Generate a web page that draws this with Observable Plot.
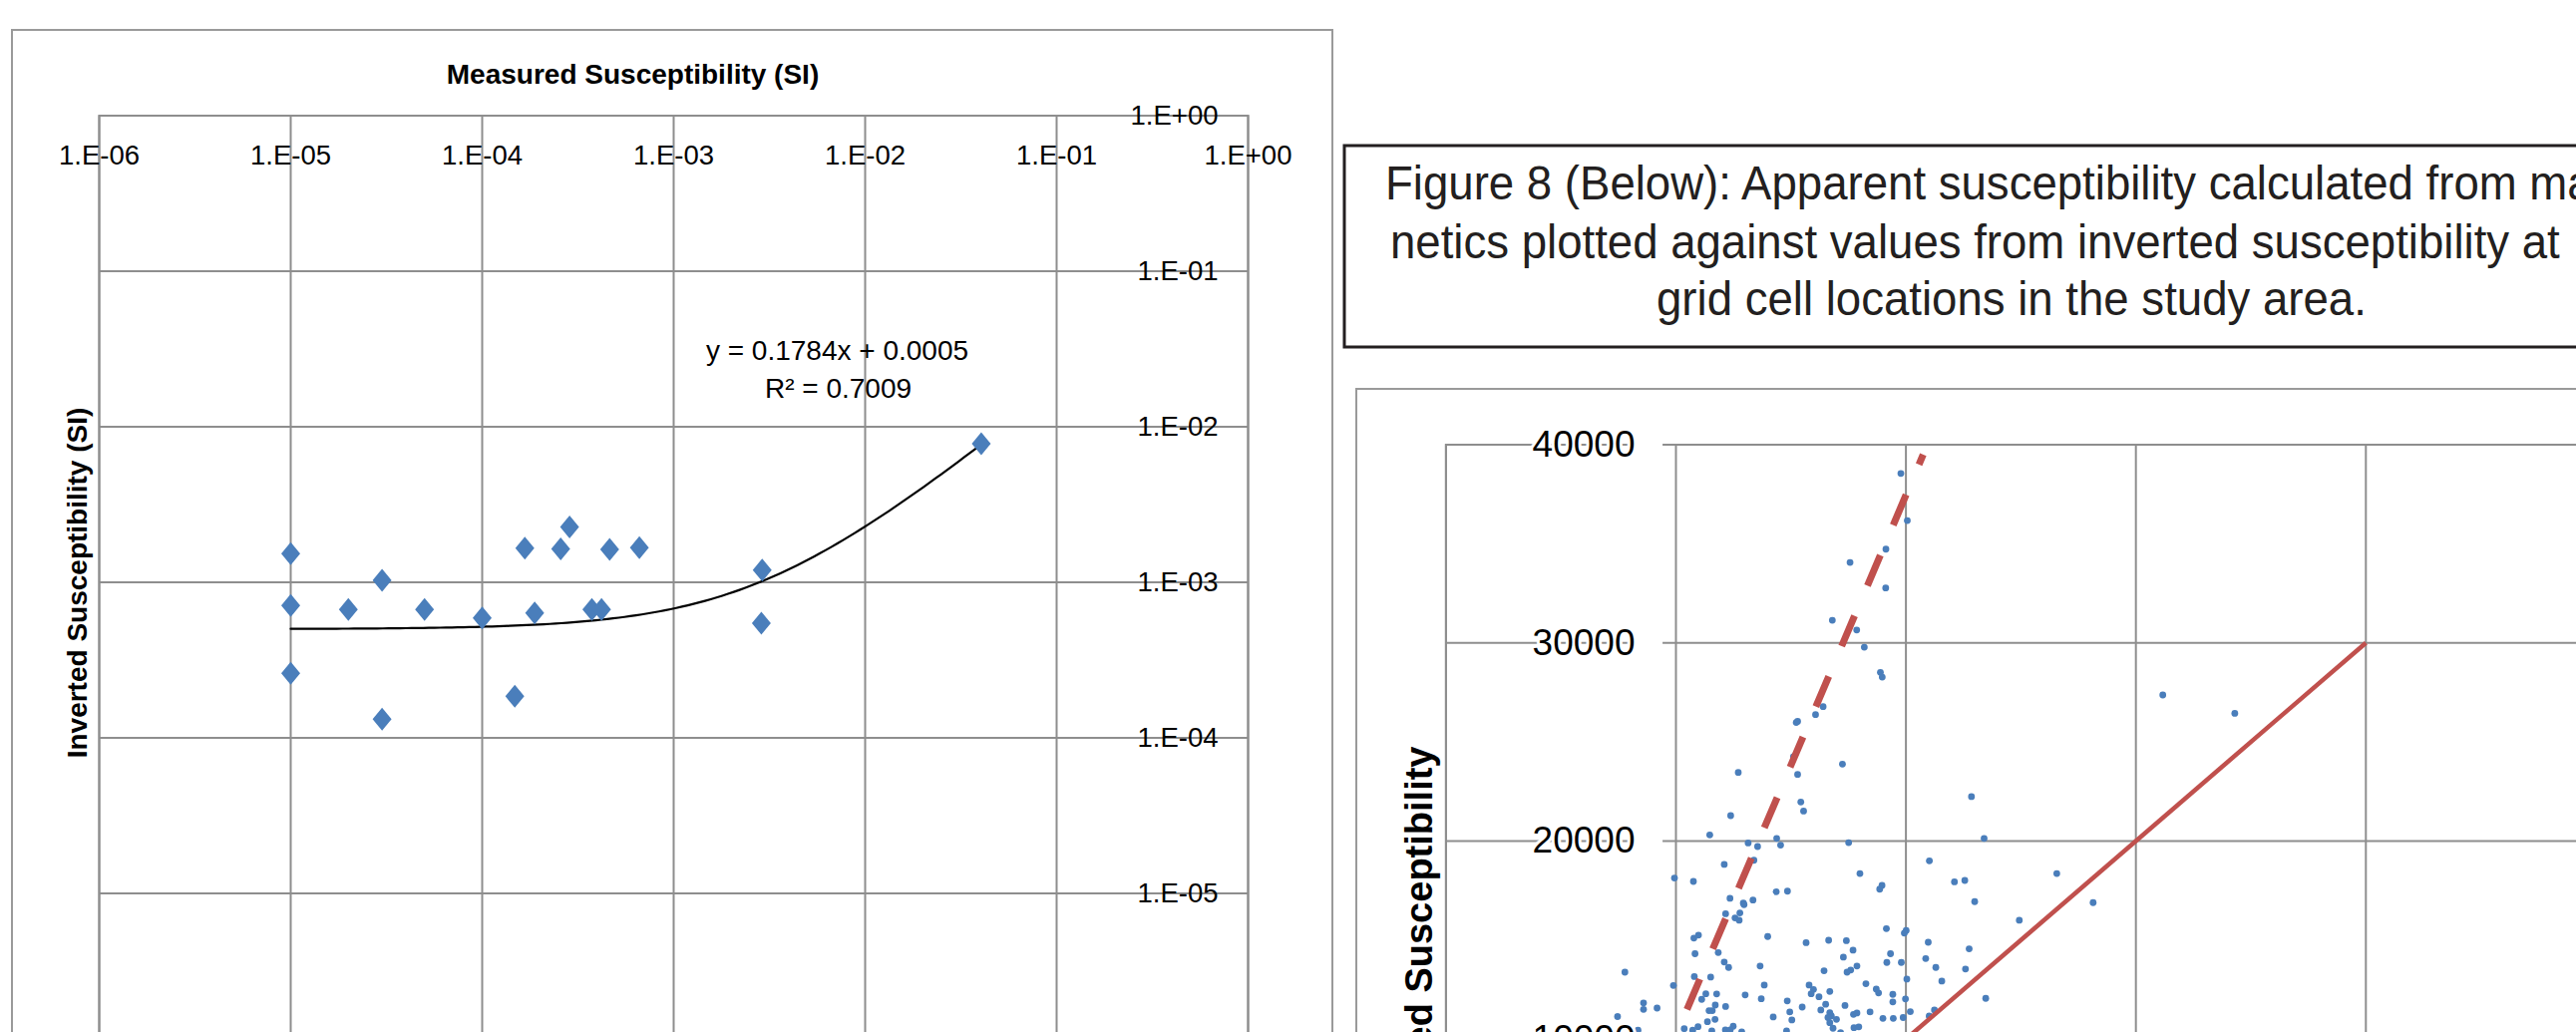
<!DOCTYPE html>
<html><head><meta charset="utf-8">
<script src="https://cdn.jsdelivr.net/npm/d3@7"></script>
<script src="https://cdn.jsdelivr.net/npm/@observablehq/plot@0.6"></script>
<style>
html,body{margin:0;padding:0;width:2583px;height:1035px;overflow:hidden;background:#fff;}
#root{position:relative;width:2583px;height:1035px;overflow:hidden;font-family:"Liberation Sans",Arial,sans-serif;}
.abs{position:absolute;}
</style></head><body><div id="root"></div>
<script>
// ===== Left chart: measured vs inverted susceptibility (log-log) =====
const measuredSusc = [1e-5, 1e-5, 1e-5, 2e-5, 3e-5, 3e-5, 5e-5, 1e-4, 1.48e-4, 1.67e-4, 1.88e-4, 2.57e-4, 2.86e-4, 3.74e-4, 4.2e-4, 4.63e-4, 6.62e-4, 2.9e-3, 2.87e-3, 0.0404];
const invertedSusc = [1.53e-3, 7.1e-4, 2.6e-4, 6.7e-4, 1.03e-3, 1.32e-4, 6.7e-4, 5.9e-4, 1.85e-4, 1.66e-3, 6.36e-4, 1.64e-3, 2.27e-3, 6.7e-4, 6.7e-4, 1.63e-3, 1.67e-3, 1.2e-3, 5.46e-4, 7.77e-3];
const leftXTicks = [1e-6, 1e-5, 1e-4, 1e-3, 1e-2, 1e-1, 1];
const leftXLabels = ["1.E-06", "1.E-05", "1.E-04", "1.E-03", "1.E-02", "1.E-01", "1.E+00"];
const leftYTicks = [1, 1e-1, 1e-2, 1e-3, 1e-4, 1e-5, 1e-6];
const leftYLabels = ["1.E+00", "1.E-01", "1.E-02", "1.E-03", "1.E-04", "1.E-05", "1.E-06"];
const trendSlope = 0.1784;
const trendIntercept = 0.0005;
const trendLabel = "y = 0.1784x + 0.0005";
const r2Label = "R\u00B2 = 0.7009";
const leftTitle = "Measured Susceptibility (SI)";
const leftYTitle = "Inverted Susceptibility (SI)";

// ===== Right chart: apparent vs inverted susceptibility =====
const apparentSusc = [9780,10060,9130,7570,9120,6800,7860,8190,8890,8970,2710,2380,1470,3140,2100,3390,-65,6400,6070,5290,5230,5110,5290,7240,5430,5550,4380,4550,3550,7510,8000,11020,21170,24300,12850,13400,12110,12560,16560,12990,18140,14930,12750,12590,13470,-2220,-110,-1410,-1410,-820,-2540,-1650,360,760,780,830,800,730,4360,4850,2350,2930,2960,3350,2160,2780,2570,2750,3990,5660,980,1840,2100,2290,3660,6440,1510,3840,5790,5980,5880,1300,1770,3010,1120,3710,6220,4840,1710,2160,5490,6300,1440,1580,4950,4230,1700,1370,5040,960,2490,2150,2360,1560,2860,4810,8960,8860,9150,10010,9930,6640,7410,10970,7700,9330,7280,9170,9800,10860,7870,7600,7440,11300,10040,11560,8260,8710,8810,6690,9430,9430,9980,6510,7350,10190,8440,7720,7870,6690,6760,6610,6980,11240,11010,9000,9450,9880,6690,6830,7740,7950,7160];
const invertedSusc2 = [38550,36170,34730,34060,32770,31140,30650,29780,28510,28270,23460,21280,20310,19900,18820,19030,18130,26780,26380,26040,25980,24260,23360,23880,21970,21510,20130,19790,19720,19920,18360,19000,27370,26440,22240,20130,17940,18010,18360,16940,16890,16000,14560,13540,12060,13380,12710,11830,11500,11570,11140,10450,10530,17960,15100,14310,13160,10450,17440,17470,17110,16870,16790,17020,16330,16370,16120,16000,15180,14870,15250,14370,13890,13620,13690,13450,13130,12730,12730,12510,12290,12290,12280,12230,12010,12040,12140,11930,11720,11650,11620,11470,11440,11440,11370,11120,11000,10880,10970,10630,10650,10470,10470,10420,10370,10420,17760,17570,15580,15480,15350,14990,14970,14890,14490,14310,14140,13870,13870,14070,13690,13490,13380,13620,13030,12930,12800,12530,12330,12410,12260,11880,12030,11760,11700,11390,11370,11250,11320,11340,11170,11090,11000,11470,11170,11050,11050,11090,10830,10550,10580,10620,10330];
const rightXGrid = [-10000, 0, 10000, 20000, 30000, 40000, 50000];
const rightYTicks = [0, 10000, 20000, 30000, 40000];
const oneToOneX = [0, 30000];
const oneToOneY = [0, 30000];
const dashedX = [480, 10750];
const dashedY = [11500, 39500];
const rightYTitle = "Inverted Susceptibility";

// ===== Caption box =====
const captionLines = [
  "Figure 8 (Below): Apparent susceptibility calculated from mag-",
  "netics plotted against values from inverted susceptibility at",
  "grid cell locations in the study area."
];

const FONT = "'Liberation Sans', Arial, sans-serif";
const GRID = "#8e8e8e";
const BLUE = "#4A7EBB";
const RED = "#C0504D";
const root = document.getElementById("root");

function box(left, top, w, h, border) {
  const d = document.createElement("div");
  d.className = "abs";
  Object.assign(d.style, {left: left + "px", top: top + "px", width: w + "px", height: h + "px",
    border: border, boxSizing: "border-box"});
  root.appendChild(d);
  return d;
}
box(11, 29, 1326, 1200, "2px solid #9a9a9a");
box(1359, 389, 1500, 1000, "2px solid #9a9a9a");

// ---- Left chart ----
const leftData = measuredSusc.map((m, i) => ({m, v: invertedSusc[i]}));
const [tx0, tx1] = d3.extent(measuredSusc);
const trend = d3.range(0, 121).map(k => {
  const x = 10 ** (Math.log10(tx0) + k / 120 * (Math.log10(tx1) - Math.log10(tx0)));
  return {x, y: trendSlope * x + trendIntercept};
});
const diamond = {draw(ctx) { const w = 9.5, h = 11.5; ctx.moveTo(0, -h); ctx.lineTo(w, 0); ctx.lineTo(0, h); ctx.lineTo(-w, 0); ctx.closePath(); }};

const left = Plot.plot({
  width: 1340, height: 1100,
  marginLeft: 99, marginRight: 89, marginTop: 115.5, marginBottom: 48.5,
  x: {type: "log", domain: [1e-6, 1], axis: null},
  y: {type: "log", domain: [1e-6, 1], axis: null},
  style: `font-family: ${FONT}; background: transparent; max-width: none; overflow: visible;`,
  marks: [
    Plot.ruleX(leftXTicks, {x: d => d, stroke: GRID, strokeWidth: 2}),
    Plot.ruleY(leftYTicks, {y: d => d, stroke: GRID, strokeWidth: 2}),
    Plot.frame({stroke: GRID, strokeWidth: 2}),
    Plot.line(trend, {x: "x", y: "y", stroke: "#000", strokeWidth: 2.2}),
    Plot.dot(leftData, {x: "m", y: "v", symbol: diamond, fill: BLUE, stroke: "none"}),
    Plot.text(leftXTicks, {x: d => d, text: (d, i) => leftXLabels[i], frameAnchor: "top", dy: 40.5, lineAnchor: "middle", fontSize: 27.5, fill: "#000"}),
    Plot.text(leftYTicks, {y: d => d, text: (d, i) => leftYLabels[i], frameAnchor: "right", dx: -30, textAnchor: "end", lineAnchor: "middle", fontSize: 27.5, fill: "#000"}),
    Plot.text([leftTitle], {frameAnchor: "top-left", dx: 535, dy: -41, textAnchor: "middle", lineAnchor: "middle", fontSize: 28, fontWeight: "bold", fill: "#000"}),
    Plot.text([leftYTitle], {frameAnchor: "top-left", dx: -21, dy: 468.5, rotate: -90, textAnchor: "middle", lineAnchor: "middle", fontSize: 28, fontWeight: "bold", fill: "#000"}),
    Plot.text([trendLabel], {frameAnchor: "top-left", dx: 740, dy: 236.5, textAnchor: "middle", lineAnchor: "middle", fontSize: 28, fill: "#000"}),
    Plot.text([r2Label], {frameAnchor: "top-left", dx: 741, dy: 274.5, textAnchor: "middle", lineAnchor: "middle", fontSize: 28, fill: "#000"})
  ]
});
left.classList.add("abs");
left.style.left = "0px"; left.style.top = "0px";
root.appendChild(left);

// ---- Right chart ----
const rightData = apparentSusc.map((a, i) => ({a, v: invertedSusc2[i]}));
const oneToOne = oneToOneX.map((x, i) => ({x, y: oneToOneY[i]}));
const dashed = dashedX.map((x, i) => ({x, y: dashedY[i]}));

const right = Plot.plot({
  width: 1513, height: 926,
  marginLeft: 109.4, marginRight: 20, marginTop: 65.5, marginBottom: 65.6,
  x: {domain: [-10000, 50000], axis: null},
  y: {domain: [0, 40000], axis: null},
  style: `font-family: ${FONT}; background: transparent; max-width: none; overflow: visible;`,
  marks: [
    Plot.ruleX(rightXGrid, {x: d => d, stroke: GRID, strokeWidth: 2}),
    Plot.ruleY(rightYTicks, {y: d => d, stroke: GRID, strokeWidth: 2}),
    Plot.frame({stroke: GRID, strokeWidth: 2}),
    Plot.ruleY(rightYTicks, {y: d => d, x1: -1770, x2: -560, stroke: "#fff", strokeWidth: 6}),
    Plot.dot(rightData, {x: "a", y: "v", r: 3.4, fill: BLUE, stroke: "none"}),
    Plot.line(dashed, {x: "x", y: "y", stroke: RED, strokeWidth: 7, strokeDasharray: "33,33", strokeLinecap: "butt"}),
    Plot.line(oneToOne, {x: "x", y: "y", stroke: RED, strokeWidth: 4.5, strokeLinecap: "butt"}),
    Plot.text(rightYTicks, {x: 0, y: d => d, text: d => String(d), dx: -41, textAnchor: "end", lineAnchor: "middle", fontSize: 37, fill: "#000", stroke: "#fff", strokeWidth: 6, paintOrder: "stroke"}),
    Plot.text([rightYTitle], {frameAnchor: "top-left", dx: -26.4, dy: 302.5, rotate: -90, textAnchor: "end", lineAnchor: "middle", fontSize: 38, fontWeight: "bold", fill: "#000"})
  ]
});
right.classList.add("abs");
right.style.left = "1340px"; right.style.top = "380px";
root.appendChild(right);

// ---- Caption box ----
const cap = d3.select(root).append("svg").attr("class", "abs")
  .style("left", "0px").style("top", "0px").attr("width", 2583).attr("height", 380)
  .style("overflow", "visible");
cap.append("rect").attr("x", 1348).attr("y", 146).attr("width", 1340).attr("height", 202)
  .attr("fill", "#fff").attr("stroke", "#231f20").attr("stroke-width", 3);
const capX = [1389, 1394, 1661];
const capBase = [200, 258.5, 316];
cap.selectAll("text.cap").data(captionLines).join("text").attr("class", "cap")
  .attr("transform", (d, i) => `translate(${capX[i]},${capBase[i]}) scale(0.94,1)`)
  .attr("font-family", FONT).attr("font-size", 48.5).attr("fill", "#231f20")
  .text(d => d);
</script>
</body></html>
